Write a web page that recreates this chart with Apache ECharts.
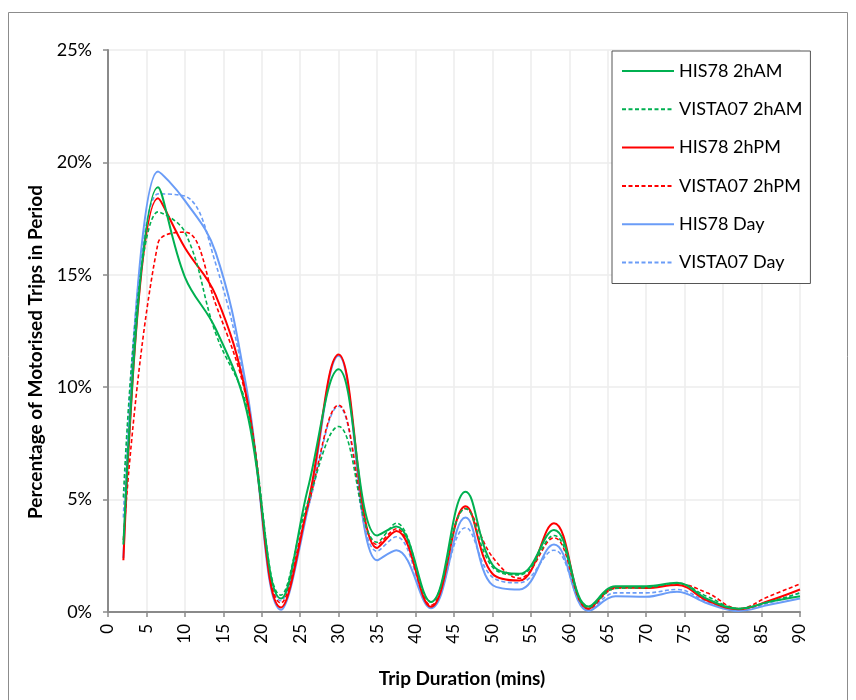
<!DOCTYPE html>
<html lang="en">
<head>
    <meta charset="UTF-8">
    <title>Trip Duration Distribution</title>
    <script src="https://cdn.jsdelivr.net/npm/echarts@6.0.0/dist/echarts.min.js"></script>
    <style>
        html, body { margin: 0; padding: 0; background: #fff; }
    </style>
</head>
<body>
    <div id="main" style="width: 856px; height: 700px;"></div>

    <script>
        // trip duration (mins) where values were read
        var durations = [2, 6.5, 10, 14, 18, 22.5, 26, 30, 35, 37.5, 42, 46.5, 50, 53.5, 58, 62.5, 66, 70, 74, 78, 82, 86, 90];

        // percentage of motorised trips in period
        var his78AM   = [3.0, 18.9, 14.9, 12.6, 9.0, 0.6, 5.5, 10.8, 3.4, 3.8, 0.45, 5.35, 2.1, 1.7, 3.65, 0.25, 1.15, 1.15, 1.3, 0.57, 0.15, 0.45, 0.7];
        var vista07AM = [5.1, 17.8, 16.9, 12.4, 9.2, 0.75, 4.9, 8.25, 3.1, 3.95, 0.45, 4.6, 2.0, 1.65, 3.4, 0.2, 1.05, 1.08, 1.28, 0.68, 0.15, 0.45, 0.85];
        var his78PM   = [2.3, 18.4, 16.2, 14.1, 9.6, 0.2, 4.8, 11.45, 2.85, 3.6, 0.23, 4.7, 1.7, 1.4, 3.95, 0.15, 1.1, 1.07, 1.2, 0.5, 0.12, 0.5, 1.0];
        var vista07PM = [3.2, 16.4, 16.9, 13.7, 9.5, 0.4, 4.7, 9.2, 3.0, 3.7, 0.3, 4.6, 2.45, 1.5, 3.3, 0.15, 1.05, 1.1, 1.25, 0.84, 0.15, 0.7, 1.25];
        var his78Day  = [2.4, 19.6, 18.3, 16.0, 10.0, 0.1, 4.6, 11.4, 2.3, 2.75, 0.17, 4.2, 1.2, 1.0, 3.0, 0.05, 0.7, 0.68, 0.9, 0.38, 0.05, 0.32, 0.6];
        var vista07Day = [4.2, 18.6, 18.5, 15.5, 9.8, 0.5, 4.6, 9.15, 2.7, 3.35, 0.25, 3.75, 1.55, 1.3, 2.75, 0.12, 0.85, 0.85, 1.0, 0.45, 0.1, 0.4, 0.85];

        var seriesNames = ['HIS78 2hAM', 'VISTA07 2hAM', 'HIS78 2hPM', 'VISTA07 2hPM', 'HIS78 Day', 'VISTA07 Day'];
        var seriesValues = [his78AM, vista07AM, his78PM, vista07PM, his78Day, vista07Day];
        var seriesColors = ['#00b050', '#00b050', '#ff0000', '#ff0000', '#6a9cf7', '#6a9cf7'];
        var seriesDashed = [false, true, false, true, false, true];

        var fontName = 'Lato';

        function pairs(values) {
            return durations.map(function (d, i) { return [d, values[i]]; });
        }

        var series = seriesNames.map(function (name, i) {
            return {
                name: name,
                type: 'line',
                data: pairs(seriesValues[i]),
                smooth: 0.4,
                symbol: 'none',
                color: seriesColors[i],
                lineStyle: {
                    width: seriesDashed[i] ? 1.6 : 2,
                    type: seriesDashed[i] ? [4, 2.5] : 'solid'
                },
                z: 10 - i
            };
        });

        var chart = echarts.init(document.getElementById('main'));

        var option = {
            animation: false,
            backgroundColor: '#fff',
            graphic: [{
                type: 'rect',
                shape: { x: 8.5, y: 12.5, width: 839, height: 700 },
                style: { fill: 'none', stroke: '#8c8c8c', lineWidth: 1 },
                silent: true
            }],
            grid: { left: 108, right: 56, top: 50, bottom: 88 },
            legend: {
                orient: 'vertical',
                left: 612,
                top: 51,
                padding: [11, 8, 12, 9],
                itemWidth: 52,
                itemHeight: 14,
                itemGap: 20.3,
                borderColor: '#555',
                borderWidth: 1,
                backgroundColor: '#fff',
                itemStyle: { opacity: 0 },
                textStyle: { fontFamily: fontName, fontSize: 18, color: '#000' },
                data: seriesNames
            },
            xAxis: {
                type: 'value',
                min: 0,
                max: 90,
                interval: 5,
                name: 'Trip Duration (mins)',
                nameLocation: 'middle',
                nameGap: 57,
                nameTextStyle: { fontFamily: fontName, fontSize: 19, fontWeight: 'bold', color: '#000', padding: [0, 0, 0, 16] },
                axisLine: { lineStyle: { color: '#8a8a8a', width: 2 } },
                axisTick: { show: true, length: 5, lineStyle: { color: '#8a8a8a', width: 1.5 } },
                axisLabel: { rotate: 90, margin: 12, fontFamily: fontName, fontSize: 17, color: '#000' },
                splitLine: { show: true, lineStyle: { color: '#ececec', width: 1.5 } }
            },
            yAxis: {
                type: 'value',
                min: 0,
                max: 25,
                interval: 5,
                name: 'Percentage of Motorised Trips in Period',
                nameLocation: 'middle',
                nameGap: 55,
                nameTextStyle: { fontFamily: fontName, fontSize: 19, fontWeight: 'bold', color: '#000', padding: [0, 42, 0, 0] },
                axisLine: { show: true, lineStyle: { color: '#8a8a8a', width: 2 } },
                axisTick: { show: true, length: 5, lineStyle: { color: '#8a8a8a', width: 1.5 } },
                axisLabel: {
                    margin: 16,
                    fontFamily: fontName,
                    fontSize: 18,
                    color: '#000',
                    formatter: function (v) { return v + '%'; }
                },
                splitLine: { show: true, lineStyle: { color: '#ececec', width: 1.5 } }
            },
            series: series
        };

        chart.setOption(option);
    </script>
</body>
</html>
